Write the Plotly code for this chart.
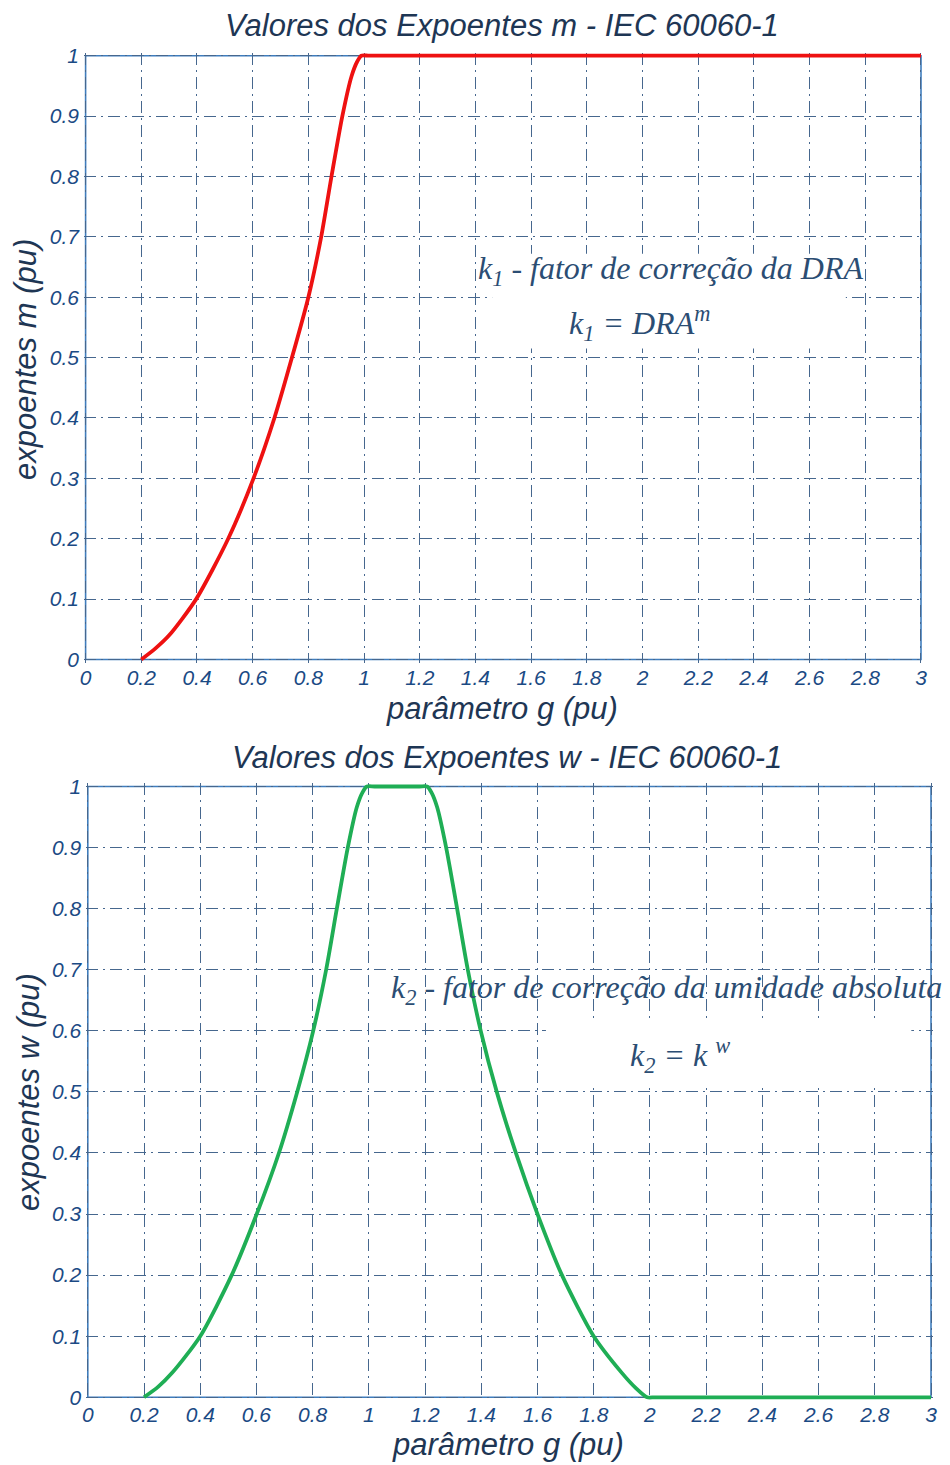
import plotly.graph_objects as go

# ---- data ----
g_m = [0.2, 0.25, 0.3, 0.397, 0.512, 0.603, 0.678, 0.741, 0.8, 0.846, 0.883, 0.922, 0.955, 0.975, 0.99, 1.02, 3.0]
m_vals = [0.0, 0.018, 0.04, 0.1, 0.2, 0.3, 0.4, 0.5, 0.6, 0.7, 0.8, 0.9, 0.966, 0.99, 1.0, 1.0, 1.0]

g_w = [0.2, 0.25, 0.3, 0.4, 0.512, 0.601, 0.68, 0.745, 0.802, 0.848, 0.886, 0.925, 0.957, 0.977, 0.993, 1.02,
       1.18, 1.207, 1.223, 1.243, 1.275, 1.314, 1.352, 1.398, 1.455, 1.523, 1.6, 1.687, 1.8, 1.9, 1.95,
       1.99, 2.02, 3.0]
w_vals = [0.0, 0.017, 0.04, 0.1, 0.2, 0.3, 0.4, 0.5, 0.6, 0.7, 0.8, 0.9, 0.966, 0.99, 1.0, 1.0,
          1.0, 1.0, 0.99, 0.966, 0.9, 0.8, 0.7, 0.6, 0.5, 0.4, 0.3, 0.2, 0.1, 0.04, 0.015,
          0.0, 0.0, 0.0]

x_ticks = [0, 0.2, 0.4, 0.6, 0.8, 1, 1.2, 1.4, 1.6, 1.8, 2, 2.2, 2.4, 2.6, 2.8, 3]
x_tick_labels = ["0", "0.2", "0.4", "0.6", "0.8", "1", "1.2", "1.4", "1.6", "1.8", "2",
                 "2.2", "2.4", "2.6", "2.8", "3"]
y_ticks = [0, 0.1, 0.2, 0.3, 0.4, 0.5, 0.6, 0.7, 0.8, 0.9, 1]
y_tick_labels = ["0", "0.1", "0.2", "0.3", "0.4", "0.5", "0.6", "0.7", "0.8", "0.9", "1"]

title_top = "Valores dos Expoentes m - IEC 60060-1"
title_bot = "Valores dos Expoentes w - IEC 60060-1"
xlabel = "parâmetro g (pu)"
ylabel_top = "expoentes m (pu)"
ylabel_bot = "expoentes w (pu)"

# page body has an 8px margin; figure coordinates are computed from window pixels
OFF = 8
W, H = 942, 1457


def px(x):
    return (x - OFF) / W


def py(y):
    return 1 - (y - OFF) / H


GRID = "#46678e"
AXLINE = "#3f7dbd"
TICKC = "#1b4a84"
TITLEC = "#1e3654"
NOTEC = "#2b4d73"
XPAD, YPAD = 0.006, 0.005

fig = go.Figure()
fig.add_trace(go.Scatter(x=g_m, y=m_vals, mode="lines",
                         line=dict(color="#ee1111", width=3.8, shape="spline", smoothing=0.7),
                         xaxis="x", yaxis="y", showlegend=False))
fig.add_trace(go.Scatter(x=g_w, y=w_vals, mode="lines",
                         line=dict(color="#1fae55", width=3.8, shape="spline", smoothing=0.7),
                         xaxis="x2", yaxis="y2", showlegend=False))

tickfont = dict(family="Liberation Sans", size=21, color=TICKC, style="italic")


def xa(d0, d1, anchor):
    return dict(domain=[px(d0), px(d1)], anchor=anchor, range=[-XPAD, 3 + XPAD],
                tickvals=x_ticks, ticktext=x_tick_labels,
                showgrid=True, gridcolor=GRID, gridwidth=1.3, griddash="12px,5px,2px,5px",
                showline=False, ticks="", tickfont=tickfont, zeroline=False,
                automargin=False, fixedrange=True)


def ya(top, bot, anchor):
    return dict(domain=[py(bot), py(top)], anchor=anchor, range=[-YPAD, 1 + YPAD],
                tickvals=y_ticks, ticktext=y_tick_labels, ticklabelstandoff=4,
                showgrid=True, gridcolor=GRID, gridwidth=1.3, griddash="12px,5px,2px,5px",
                showline=False, ticks="", tickfont=tickfont, zeroline=False,
                automargin=False, fixedrange=True)


# plot boxes: data 0..3 / 0..1 mapped to measured pixel positions (plus padding)
tx0, tx3, ty1, ty0 = 85.6, 921.0, 55.7, 659.5
bx0, bx3, by1, by0 = 87.8, 931.0, 786.5, 1397.3
tpx = (tx3 - tx0) / 3 * XPAD
tpy = (ty0 - ty1) * YPAD
bpx = (bx3 - bx0) / 3 * XPAD
bpy = (by0 - by1) * YPAD

fig.update_layout(
    width=W, height=H, margin=dict(l=0, r=0, t=0, b=0),
    paper_bgcolor="white", plot_bgcolor="white",
    xaxis=xa(tx0 - tpx, tx3 + tpx, "y"),
    yaxis=ya(ty1 - tpy, ty0 + tpy, "x"),
    xaxis2=xa(bx0 - bpx, bx3 + bpx, "y2"),
    yaxis2=ya(by1 - bpy, by0 + bpy, "x2"),
)

# axis frames
fig.add_shape(type="rect", xref="x", yref="y", x0=0, x1=3, y0=0, y1=1,
              line=dict(color=AXLINE, width=1.6), layer="below")
fig.add_shape(type="rect", xref="x2", yref="y2", x0=0, x1=3, y0=0, y1=1,
              line=dict(color=AXLINE, width=1.6), layer="below")

# white patches behind the inserted formula text (between grid and traces)
fig.add_shape(type="rect", xref="x", yref="y", x0=1.46, x1=2.73, y0=0.515, y1=0.672,
              fillcolor="white", line_width=0, layer="between")
fig.add_shape(type="rect", xref="x2", yref="y2", x0=1.63, x1=2.93, y0=0.51, y1=0.615,
              fillcolor="white", line_width=0, layer="between")

lab = dict(family="Liberation Sans", size=31, color=TITLEC, style="italic")
ctr = dict(xref="paper", yref="paper", showarrow=False, xanchor="center", yanchor="middle")
ann = [
    dict(text=title_top, x=px(502), y=py(25), font=lab, **ctr),
    dict(text=title_bot, x=px(507), y=py(757), font=lab, **ctr),
    dict(text=xlabel, x=px(502), y=py(709), font=lab, **ctr),
    dict(text=xlabel, x=px(508), y=py(1444), font=lab, **ctr),
    dict(text=ylabel_top, x=px(25), y=py(360), font=lab, textangle=-90, **ctr),
    dict(text=ylabel_bot, x=px(28), y=py(1092), font=lab, textangle=-90, **ctr),
]

note = dict(family="Liberation Serif", size=32, color=NOTEC, style="italic")
nc = dict(showarrow=False, xanchor="center", yanchor="middle")
ann += [
    dict(text="k<sub>1</sub> - fator de correção da DRA", x=2.10, y=0.645, xref="x", yref="y", font=note, **nc),
    dict(text="k<sub>1</sub> = DRA<sup>m</sup>", x=1.99, y=0.557, xref="x", yref="y", font=note, **nc),
    dict(text="k<sub>2</sub> - fator de correção da umidade absoluta", x=2.058, y=0.667,
         xref="x2", yref="y2", font=note, **nc),
    dict(text="k<sub>2</sub> = k <sup>w</sup>", x=2.107, y=0.56, xref="x2", yref="y2", font=note, **nc),
]
fig.update_layout(annotations=ann)

fig.write_html("out.html")
